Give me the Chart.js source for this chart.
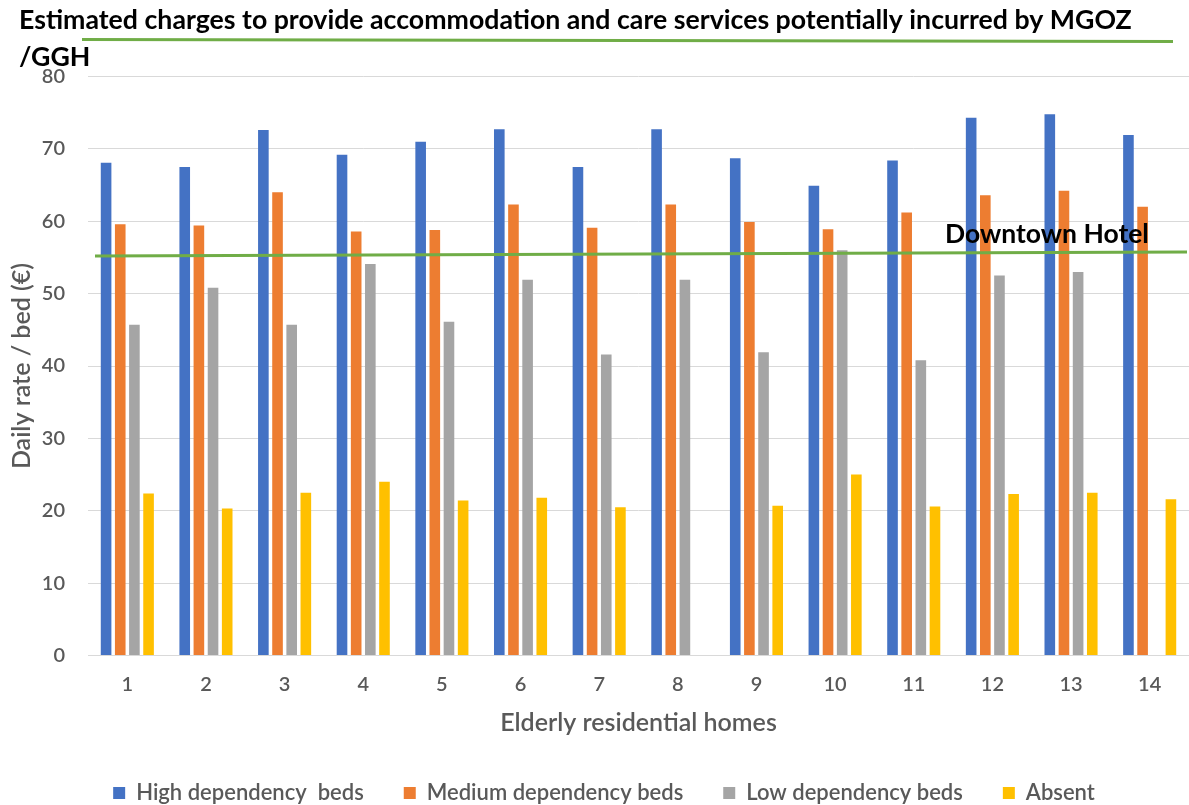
<!DOCTYPE html>
<html>
<head>
<meta charset="utf-8">
<script src="https://cdn.jsdelivr.net/npm/chart.js@4.4.1/dist/chart.umd.min.js"></script>
<style>
  html, body { margin: 0; padding: 0; background: #fff; }
</style>
</head>
<body>
<canvas id="chart" width="1189" height="805"></canvas>
<script>
const homes = ['1', '2', '3', '4', '5', '6', '7', '8', '9', '10', '11', '12', '13', '14'];
const seriesNames = ['High dependency  beds', 'Medium dependency beds', 'Low dependency beds', 'Absent'];
const highDependency = [68.1, 67.5, 72.6, 69.2, 71.0, 72.7, 67.5, 72.7, 68.7, 64.9, 68.4, 74.3, 74.8, 71.9];
const mediumDependency = [59.6, 59.4, 64.0, 58.6, 58.8, 62.3, 59.1, 62.3, 59.9, 58.9, 61.2, 63.6, 64.2, 62.0];
const lowDependency = [45.7, 50.8, 45.7, 54.1, 46.1, 51.9, 41.6, 51.9, 41.9, 56.0, 40.8, 52.5, 53.0, null];
const absent = [22.4, 20.3, 22.5, 24.0, 21.4, 21.8, 20.5, null, 20.7, 25.0, 20.6, 22.3, 22.5, 21.6];
// reference line: value at left end, value at right end
const hotelRate = [55.2, 55.75];
const hotelLabel = 'Downtown Hotel';
const yTicks = [0, 10, 20, 30, 40, 50, 60, 70, 80];

const titleLines = ['Estimated charges to provide accommodation and care services potentially incurred by MGOZ', '/GGH'];
const colors = ['#4472C4', '#ED7D31', '#A5A5A5', '#FFC000'];
const green = '#70AD47';
const axisText = '#595959';

Chart.defaults.font.family = 'Lato, "Open Sans", sans-serif';
Chart.defaults.font.weight = '600';

// hotel reference line + its label, and the green rule under the title
const decorations = {
    id: 'decorations',
    afterDatasetsDraw(chart) {
        const { ctx, chartArea, scales } = chart;
        const x0 = chartArea.left + 7;
        const x1 = chartArea.right - 2;
        const y0 = scales.y.getPixelForValue(hotelRate[0]);
        const y1 = scales.y.getPixelForValue(hotelRate[1]);
        ctx.save();
        ctx.strokeStyle = green;
        ctx.lineWidth = 3;
        ctx.beginPath();
        ctx.moveTo(x0, y0);
        ctx.lineTo(x1, y1);
        ctx.stroke();

        const t = 0.871;
        const lx = chartArea.left + chartArea.width * t;
        const ly = y0 + (y1 - y0) * t;
        ctx.font = 'bold 26.5px Lato, sans-serif';
        ctx.fillStyle = '#000';
        ctx.textAlign = 'center';
        ctx.textBaseline = 'alphabetic';
        ctx.fillText(hotelLabel, lx, ly - 10);
        ctx.restore();
    },
    afterDraw(chart) {
        const { ctx, chartArea } = chart;
        ctx.save();
        ctx.strokeStyle = green;
        ctx.lineWidth = 3;
        ctx.beginPath();
        ctx.moveTo(chartArea.left - 6, 39.5);
        ctx.lineTo(chart.width - 16, 41.5);
        ctx.stroke();
        ctx.restore();
    }
};

new Chart(document.getElementById('chart'), {
    type: 'bar',
    data: {
        labels: homes,
        datasets: [highDependency, mediumDependency, lowDependency, absent].map((values, i) => ({
            label: seriesNames[i],
            data: values,
            backgroundColor: colors[i],
            borderWidth: 0,
        }))
    },
    options: {
        responsive: false,
        animation: false,
        devicePixelRatio: 1,
        datasets: { bar: { categoryPercentage: 0.72, barPercentage: 0.75 } },
        layout: { padding: { left: 19, right: 0, top: 0, bottom: -9 } },
        scales: {
            x: {
                afterFit: (scale) => { scale.height = 86.5; },
                grid: { display: false, drawTicks: false },
                border: { display: true, color: '#D9D9D9', width: 1 },
                ticks: { color: axisText, font: { size: 20 }, padding: 17.5 },
                title: {
                    display: true,
                    text: 'Elderly residential homes',
                    color: axisText,
                    font: { size: 25 },
                    padding: { top: 0, bottom: 4 }
                }
            },
            y: {
                min: 0,
                max: 80,
                afterFit: (scale) => { scale.width = 69; },
                afterBuildTicks: (axis) => { axis.ticks = yTicks.map(v => ({ value: v })); },
                grid: { color: '#D9D9D9', lineWidth: 1, drawTicks: false },
                border: { display: false },
                ticks: { color: axisText, font: { size: 20 }, padding: 23 },
                title: {
                    display: true,
                    text: 'Daily rate / bed (€)',
                    color: axisText,
                    font: { size: 25 },
                    padding: { top: -12, bottom: 0 }
                }
            }
        },
        plugins: {
            title: {
                display: true,
                text: titleLines,
                align: 'start',
                color: '#000',
                font: { size: 26.7, weight: 'bold', lineHeight: 37 / 26.7 },
                padding: { top: 1.5, bottom: 1 }
            },
            legend: {
                position: 'bottom',
                labels: {
                    boxWidth: 12,
                    boxHeight: 12,
                    padding: 40,
                    color: axisText,
                    font: { size: 22 }
                }
            },
            tooltip: { enabled: false }
        }
    },
    plugins: [decorations]
});
</script>
</body>
</html>
